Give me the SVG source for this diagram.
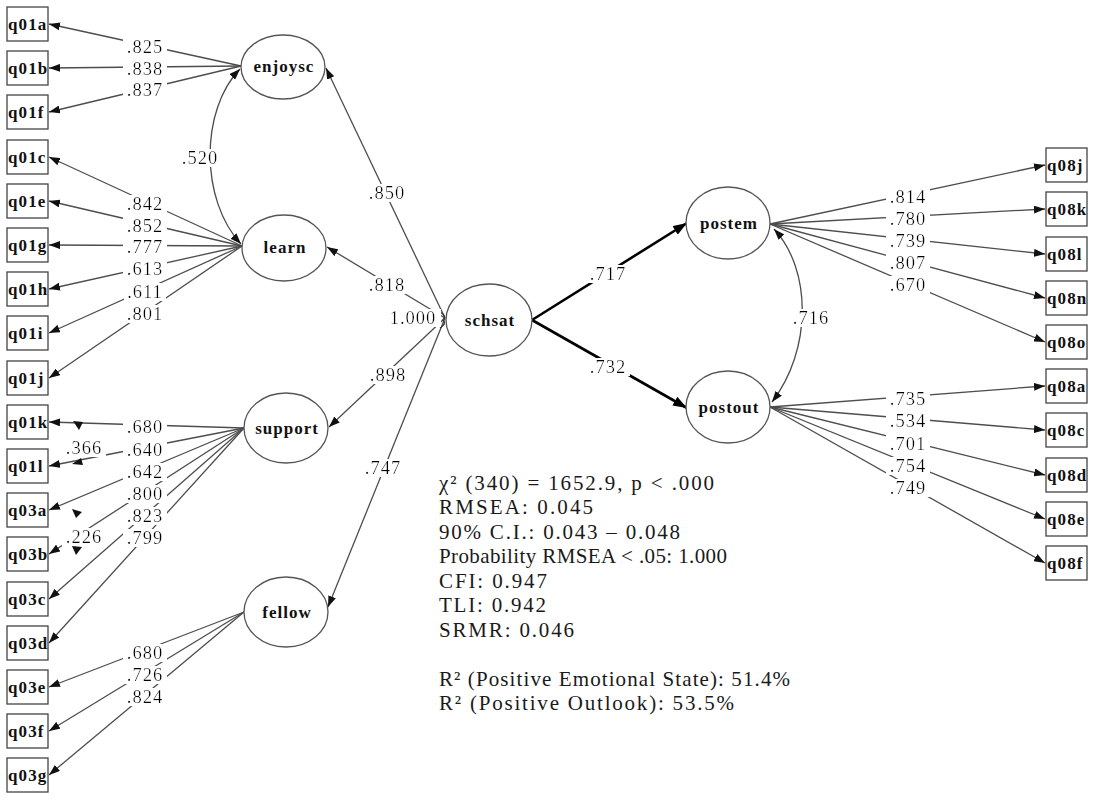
<svg xmlns="http://www.w3.org/2000/svg" width="1094" height="803" viewBox="0 0 1094 803">
<style>
  .box { fill: #fff; stroke: #444; stroke-width: 1.3; }
  .lat { fill: #fff; stroke: #555; stroke-width: 1.3; }
  .btxt { font-family: "Liberation Serif", "Times New Roman", serif; font-size: 17px; font-weight: bold; fill: #111; letter-spacing: 1.1px; }
  .ltxt { font-family: "Liberation Serif", "Times New Roman", serif; font-size: 17px; font-weight: bold; fill: #111; letter-spacing: 1px; text-anchor: middle; }
  .e { fill: none; stroke: #4d4d4d; stroke-width: 1.3; marker-end: url(#ah); }
  .cov { fill: none; stroke: #4d4d4d; stroke-width: 1.3; marker-start: url(#ah); marker-end: url(#ah); }
  .thick { fill: none; stroke: #000; stroke-width: 2.6; marker-end: url(#ahb); }
  .lab { font-family: "Liberation Serif", "Times New Roman", serif; font-size: 18.5px; fill: #000; letter-spacing: 1px; text-anchor: middle; filter: url(#bg); }
  .stat { font-family: "Liberation Serif", "Times New Roman", serif; font-size: 21px; fill: #1a1a1a; }
  .tip { fill: #111; stroke: none; }
</style>
<defs>
  <marker id="ah" viewBox="0 0 11 8" refX="11" refY="4" markerWidth="11" markerHeight="8" markerUnits="userSpaceOnUse" orient="auto-start-reverse">
    <path d="M0,0 L11,4 L0,8 z" fill="#111"/>
  </marker>
  <marker id="ahb" viewBox="0 0 14 10" refX="14" refY="5" markerWidth="14" markerHeight="10" markerUnits="userSpaceOnUse" orient="auto">
    <path d="M0,0 L14,5 L0,10 z" fill="#000"/>
  </marker>
  <filter id="bg" x="-0.08" y="0.05" width="1.16" height="0.9">
    <feFlood flood-color="#ffffff"/>
    <feComposite in="SourceGraphic" operator="over"/>
  </filter>
</defs>
<rect width="1094" height="803" fill="#fff"/>

<g id="connectors">
  <!-- enjoysc loadings -->
  <path class="e" d="M241,66 L49,24"/>
  <path class="e" d="M241,66 L49,68"/>
  <path class="e" d="M241,66 L49,112"/>
  <!-- learn loadings -->
  <path class="e" d="M242,246 L49,157"/>
  <path class="e" d="M242,246 L49,201"/>
  <path class="e" d="M242,246 L49,245"/>
  <path class="e" d="M242,246 L49,289"/>
  <path class="e" d="M242,246 L49,333"/>
  <path class="e" d="M242,246 L49,378"/>
  <!-- support loadings -->
  <path class="e" d="M244,428 L49,422"/>
  <path class="e" d="M244,428 L49,466"/>
  <path class="e" d="M244,428 L49,510"/>
  <path class="e" d="M244,428 L49,554"/>
  <path class="e" d="M244,428 L49,599"/>
  <path class="e" d="M244,428 L49,643"/>
  <!-- fellow loadings -->
  <path class="e" d="M244,612 L49,687"/>
  <path class="e" d="M244,612 L49,731"/>
  <path class="e" d="M244,612 L49,775"/>
  <!-- schsat to first-order factors -->
  <path class="e" d="M445,318 L326,68"/>
  <path class="e" d="M445,318 L327,247"/>
  <path class="e" d="M445,318 L329,427"/>
  <path class="e" d="M445,318 L328,607"/>
  <!-- schsat variance mark -->
  <path d="M440,312 Q447,316 443,320 Q447,324 440,328" fill="none" stroke="#333" stroke-width="1.3"/>
  <!-- schsat to outcomes -->
  <path class="thick" d="M532,320 L687,223"/>
  <path class="thick" d="M532,320 L687,408"/>
  <!-- postem loadings -->
  <path class="e" d="M770,224 L1045,165"/>
  <path class="e" d="M770,224 L1045,209"/>
  <path class="e" d="M770,224 L1045,254"/>
  <path class="e" d="M770,224 L1045,298"/>
  <path class="e" d="M770,224 L1045,342"/>
  <!-- postout loadings -->
  <path class="e" d="M770,407 L1045,386"/>
  <path class="e" d="M770,407 L1045,430"/>
  <path class="e" d="M770,407 L1045,475"/>
  <path class="e" d="M770,407 L1045,519"/>
  <path class="e" d="M770,407 L1045,563"/>
  <!-- covariances -->
  <path class="cov" d="M240,69 C200,110 200,200 241,244"/>
  <path class="cov" d="M774,229 C812,270 812,350 772,402"/>
  <!-- error covariance arrowheads -->
  <polygon class="tip" points="73,421 83,422 79,430"/>
  <polygon class="tip" points="72,464 81,458 83,465"/>
  <polygon class="tip" points="72,509 82,512 76,518"/>
  <polygon class="tip" points="76,555 72,546 82,547"/>

  <!-- labels -->
  <text class="lab" x="145" y="53">.825</text>
  <text class="lab" x="145" y="75">.838</text>
  <text class="lab" x="145" y="96">.837</text>
  <text class="lab" x="200" y="164">.520</text>
  <text class="lab" x="145" y="210">.842</text>
  <text class="lab" x="145" y="232">.852</text>
  <text class="lab" x="145" y="253">.777</text>
  <text class="lab" x="145" y="275">.613</text>
  <text class="lab" x="145" y="298">.611</text>
  <text class="lab" x="145" y="320">.801</text>
  <text class="lab" x="145" y="433">.680</text>
  <text class="lab" x="84" y="454">.366</text>
  <text class="lab" x="145" y="456">.640</text>
  <text class="lab" x="145" y="478">.642</text>
  <text class="lab" x="145" y="500">.800</text>
  <text class="lab" x="145" y="522">.823</text>
  <text class="lab" x="84" y="543">.226</text>
  <text class="lab" x="145" y="544">.799</text>
  <text class="lab" x="145" y="659">.680</text>
  <text class="lab" x="145" y="681">.726</text>
  <text class="lab" x="145" y="703">.824</text>
  <text class="lab" x="387" y="199">.850</text>
  <text class="lab" x="387" y="291">.818</text>
  <text class="lab" x="413" y="324">1.000</text>
  <text class="lab" x="388" y="381">.898</text>
  <text class="lab" x="383" y="474">.747</text>
  <text class="lab" x="608" y="280">.717</text>
  <text class="lab" x="608" y="373">.732</text>
  <text class="lab" x="811" y="324">.716</text>
  <text class="lab" x="908" y="203">.814</text>
  <text class="lab" x="908" y="225">.780</text>
  <text class="lab" x="908" y="247">.739</text>
  <text class="lab" x="908" y="269">.807</text>
  <text class="lab" x="908" y="291">.670</text>
  <text class="lab" x="908" y="405">.735</text>
  <text class="lab" x="908" y="427">.534</text>
  <text class="lab" x="908" y="450">.701</text>
  <text class="lab" x="908" y="472">.754</text>
  <text class="lab" x="908" y="494">.749</text>
</g>

<!-- left indicators -->
<g id="q01a"><rect class="box" x="7" y="7" width="41" height="34"/><text class="btxt" x="8" y="30">q01a</text></g>
<g id="q01b"><rect class="box" x="7" y="51" width="41" height="34"/><text class="btxt" x="8" y="74">q01b</text></g>
<g id="q01f"><rect class="box" x="7" y="95" width="41" height="34"/><text class="btxt" x="8" y="118">q01f</text></g>
<g id="q01c"><rect class="box" x="7" y="140" width="41" height="34"/><text class="btxt" x="8" y="163">q01c</text></g>
<g id="q01e"><rect class="box" x="7" y="184" width="41" height="34"/><text class="btxt" x="8" y="207">q01e</text></g>
<g id="q01g"><rect class="box" x="7" y="228" width="41" height="34"/><text class="btxt" x="8" y="251">q01g</text></g>
<g id="q01h"><rect class="box" x="7" y="272" width="41" height="34"/><text class="btxt" x="8" y="295">q01h</text></g>
<g id="q01i"><rect class="box" x="7" y="316" width="41" height="34"/><text class="btxt" x="8" y="339">q01i</text></g>
<g id="q01j"><rect class="box" x="7" y="361" width="41" height="34"/><text class="btxt" x="8" y="384">q01j</text></g>
<g id="q01k"><rect class="box" x="7" y="405" width="41" height="34"/><text class="btxt" x="8" y="428">q01k</text></g>
<g id="q01l"><rect class="box" x="7" y="449" width="41" height="34"/><text class="btxt" x="8" y="472">q01l</text></g>
<g id="q03a"><rect class="box" x="7" y="493" width="41" height="34"/><text class="btxt" x="8" y="516">q03a</text></g>
<g id="q03b"><rect class="box" x="7" y="537" width="41" height="34"/><text class="btxt" x="8" y="560">q03b</text></g>
<g id="q03c"><rect class="box" x="7" y="582" width="41" height="34"/><text class="btxt" x="8" y="605">q03c</text></g>
<g id="q03d"><rect class="box" x="7" y="626" width="41" height="34"/><text class="btxt" x="8" y="649">q03d</text></g>
<g id="q03e"><rect class="box" x="7" y="670" width="41" height="34"/><text class="btxt" x="8" y="693">q03e</text></g>
<g id="q03f"><rect class="box" x="7" y="714" width="41" height="34"/><text class="btxt" x="8" y="737">q03f</text></g>
<g id="q03g"><rect class="box" x="7" y="758" width="41" height="34"/><text class="btxt" x="8" y="781">q03g</text></g>

<!-- right indicators -->
<g id="q08j"><rect class="box" x="1046" y="148" width="41" height="34"/><text class="btxt" x="1047" y="171">q08j</text></g>
<g id="q08k"><rect class="box" x="1046" y="192" width="41" height="34"/><text class="btxt" x="1047" y="215">q08k</text></g>
<g id="q08l"><rect class="box" x="1046" y="237" width="41" height="34"/><text class="btxt" x="1047" y="260">q08l</text></g>
<g id="q08n"><rect class="box" x="1046" y="281" width="41" height="34"/><text class="btxt" x="1047" y="304">q08n</text></g>
<g id="q08o"><rect class="box" x="1046" y="325" width="41" height="34"/><text class="btxt" x="1047" y="348">q08o</text></g>
<g id="q08a"><rect class="box" x="1046" y="369" width="41" height="34"/><text class="btxt" x="1047" y="392">q08a</text></g>
<g id="q08c"><rect class="box" x="1046" y="413" width="41" height="34"/><text class="btxt" x="1047" y="436">q08c</text></g>
<g id="q08d"><rect class="box" x="1046" y="458" width="41" height="34"/><text class="btxt" x="1047" y="481">q08d</text></g>
<g id="q08e"><rect class="box" x="1046" y="502" width="41" height="34"/><text class="btxt" x="1047" y="525">q08e</text></g>
<g id="q08f"><rect class="box" x="1046" y="546" width="41" height="34"/><text class="btxt" x="1047" y="569">q08f</text></g>

<!-- latent factors -->
<g id="enjoysc"><ellipse class="lat" cx="283" cy="67" rx="42" ry="32"/><text class="ltxt" x="284" y="72">enjoysc</text></g>
<g id="learn"><ellipse class="lat" cx="284" cy="248" rx="42" ry="33"/><text class="ltxt" x="285" y="253">learn</text></g>
<g id="support"><ellipse class="lat" cx="286" cy="428" rx="42" ry="35"/><text class="ltxt" x="287" y="434">support</text></g>
<g id="fellow"><ellipse class="lat" cx="286" cy="612" rx="42" ry="35"/><text class="ltxt" x="287" y="618">fellow</text></g>
<g id="schsat"><ellipse class="lat" cx="489" cy="320" rx="43" ry="36"/><text class="ltxt" x="490" y="326">schsat</text></g>
<g id="postem"><ellipse class="lat" cx="728" cy="223" rx="42" ry="36"/><text class="ltxt" x="729" y="229">postem</text></g>
<g id="postout"><ellipse class="lat" cx="728" cy="407" rx="42" ry="36"/><text class="ltxt" x="729" y="413">postout</text></g>

<!-- fit statistics -->
<g id="stats">
  <text class="stat" x="439" y="490" textLength="275" lengthAdjust="spacing">χ² (340) = 1652.9, p &lt; .000</text>
  <text class="stat" x="439" y="514" textLength="154" lengthAdjust="spacing">RMSEA: 0.045</text>
  <text class="stat" x="439" y="539" textLength="241" lengthAdjust="spacing">90% C.I.: 0.043 – 0.048</text>
  <text class="stat" x="439" y="563" textLength="288" lengthAdjust="spacing">Probability RMSEA &lt; .05: 1.000</text>
  <text class="stat" x="439" y="588" textLength="108" lengthAdjust="spacing">CFI: 0.947</text>
  <text class="stat" x="439" y="612" textLength="107" lengthAdjust="spacing">TLI: 0.942</text>
  <text class="stat" x="439" y="637" textLength="135" lengthAdjust="spacing">SRMR: 0.046</text>
  <text class="stat" x="439" y="686" textLength="351" lengthAdjust="spacing">R² (Positive Emotional State): 51.4%</text>
  <text class="stat" x="439" y="710" textLength="295" lengthAdjust="spacing">R² (Positive Outlook): 53.5%</text>
</g>
</svg>
